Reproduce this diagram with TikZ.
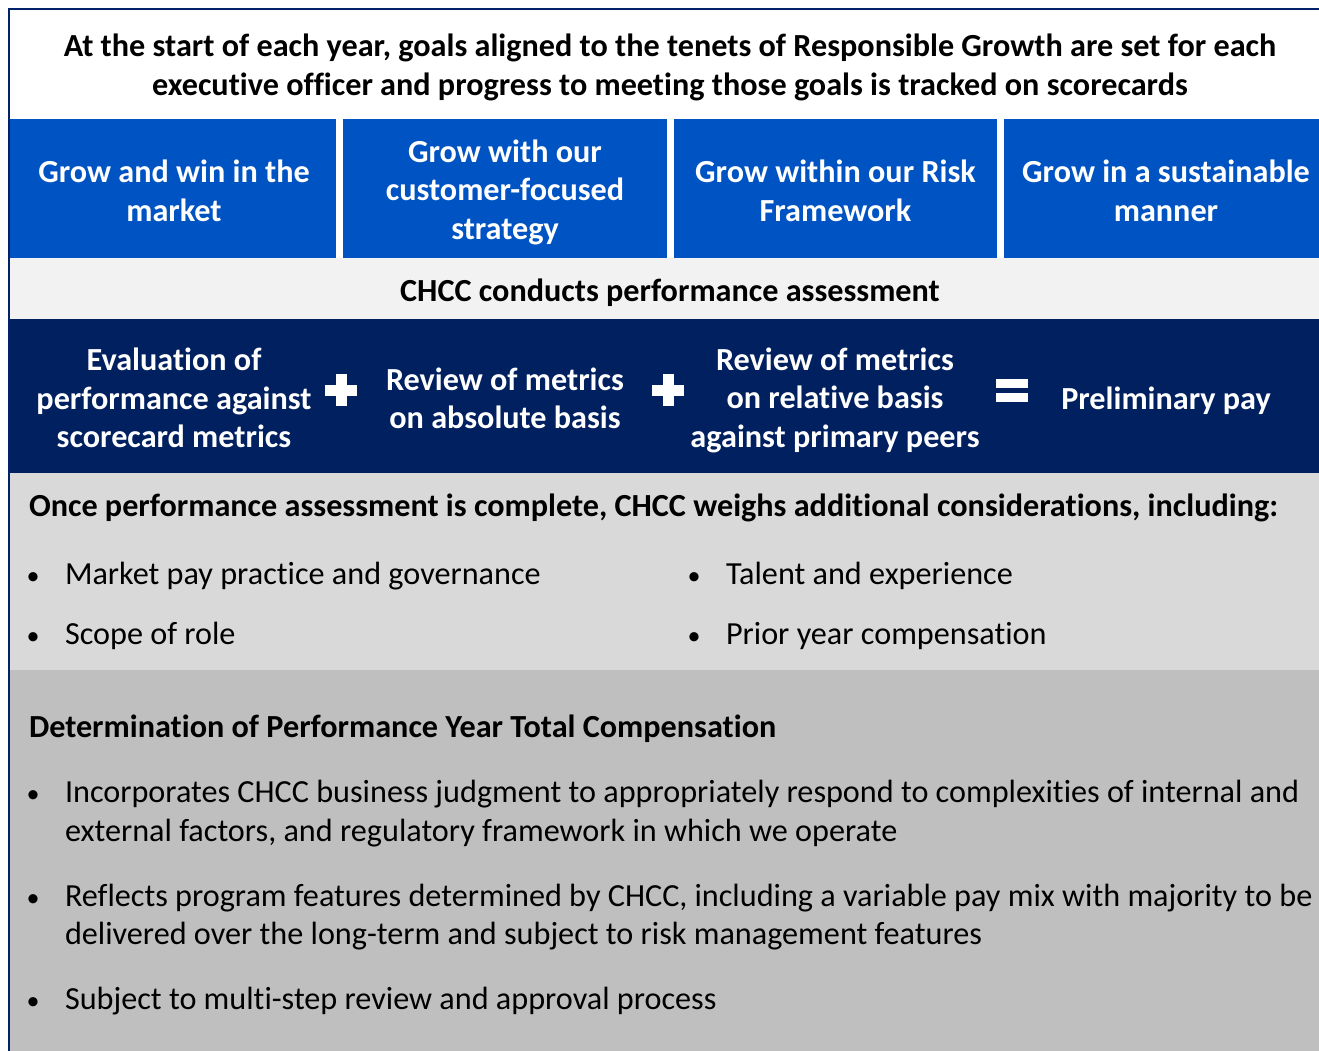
\documentclass[tikz,border=0pt]{standalone}
\usepackage{fontspec}
\setmainfont{Carlito}[Ligatures=NoCommon]
\definecolor{framenavy}{HTML}{012169}
\definecolor{boxblue}{HTML}{0053C2}
\definecolor{bandnavy}{HTML}{00205F}
\definecolor{grayA}{HTML}{F2F2F2}
\definecolor{grayB}{HTML}{D9D9D9}
\definecolor{grayC}{HTML}{BFBFBF}
\begin{document}
\begin{tikzpicture}[x=1bp,y=-1bp,
  txt/.style={inner sep=0pt, outer sep=0pt, font=\fontsize{32.2bp}{38.5bp}\selectfont},
  btxt/.style={txt, font=\fontsize{32.2bp}{38.5bp}\selectfont\bfseries},
  ctr/.style={btxt, align=center, anchor=center},
  wctr/.style={ctr, text=white},
  lbase/.style={txt, anchor=base west},
  blbase/.style={btxt, anchor=base west},
  bul/.style={inner sep=0pt, outer sep=0pt, anchor=base, font=\fontsize{26bp}{30bp}\selectfont}
]
\useasboundingbox (0,0) rectangle (1319,1050);
\fill[white] (0,0) rectangle (1319,1050);
% bands
\fill[boxblue] (10,119) rectangle (336,258);
\fill[boxblue] (343,119) rectangle (667,258);
\fill[boxblue] (674,119) rectangle (997,258);
\fill[boxblue] (1004,119) rectangle (1330,258);
\fill[grayA] (10,258) rectangle (1330,319);
\fill[bandnavy] (10,319) rectangle (1330,473);
\fill[grayB] (10,473) rectangle (1330,670);
\fill[grayC] (10,670) rectangle (1330,1060);
% frame
\draw[framenavy, line width=2.5bp] (9,1060) -- (9,9) -- (1330,9);
% title
\node[btxt, anchor=base] (t1) at (670,56.5) {At the start of each year, goals aligned to the tenets of Responsible Growth are set for each};
\node[btxt, anchor=base] (t2) at (670,95.5) {executive officer and progress to meeting those goals is tracked on scorecards};
% blue boxes
\node[wctr] (g1) at (174,191) {Grow and win in the\\market};
\node[wctr] (g2) at (505,192) {Grow with our\\customer-focused\\strategy};
\node[wctr] (g3) at (835.5,191) {Grow within our Risk\\Framework};
\node[wctr] (g4) at (1166,191) {Grow in a sustainable\\manner};
% CHCC
\node[btxt, anchor=base] (chcc) at (670,301.5) {CHCC conducts performance assessment};
% navy row
\node[wctr] (e1) at (174,398) {Evaluation of\\performance against\\scorecard metrics};
\node[wctr] (e2) at (505,398.5) {Review of metrics\\on absolute basis};
\node[wctr] (e3) at (835,400) {Review of metrics\\on relative basis\\against primary peers};
\node[wctr] (e4) at (1166,400.5) {Preliminary pay};
% plus and equals signs
\fill[white] (325,384.5) rectangle (357,395.5);
\fill[white] (335.5,374) rectangle (346.5,406);
\fill[white] (652,384.5) rectangle (684,395.5);
\fill[white] (662.5,374) rectangle (673.5,406);
\fill[white] (996,379) rectangle (1028,388);
\fill[white] (996,393) rectangle (1028,402);
% considerations
\node[blbase] (once) at (29,516.5) {Once performance assessment is complete, CHCC weighs additional considerations, including:};
\node[bul] (u1) at (33,584.5) {•};
\node[lbase] (c1) at (65,584.5) {Market pay practice and governance};
\node[bul] (u2) at (33,644.5) {•};
\node[lbase] (c2) at (65,644.5) {Scope of role};
\node[bul] (u3) at (694,584.5) {•};
\node[lbase] (c3) at (726,584.5) {Talent and experience};
\node[bul] (u4) at (694,644.5) {•};
\node[lbase] (c4) at (726,644.5) {Prior year compensation};
% determination
\node[blbase] (det) at (29,737.5) {Determination of Performance Year Total Compensation};
\node[bul] (v1) at (33,802.5) {•};
\node[lbase] (d1a) at (65,802.5) {Incorporates CHCC business judgment to appropriately respond to complexities of internal and};
\node[lbase] (d1b) at (65,841.5) {external factors, and regulatory framework in which we operate};
\node[bul] (v2) at (33,906.5) {•};
\node[lbase] (d2a) at (65,906.5) {Reflects program features determined by CHCC, including a variable pay mix with majority to be};
\node[lbase] (d2b) at (65,944.5) {delivered over the long-term and subject to risk management features};
\node[bul] (v3) at (33,1009.5) {•};
\node[lbase] (d3) at (65,1009.5) {Subject to multi-step review and approval process};
\end{tikzpicture}
\end{document}
